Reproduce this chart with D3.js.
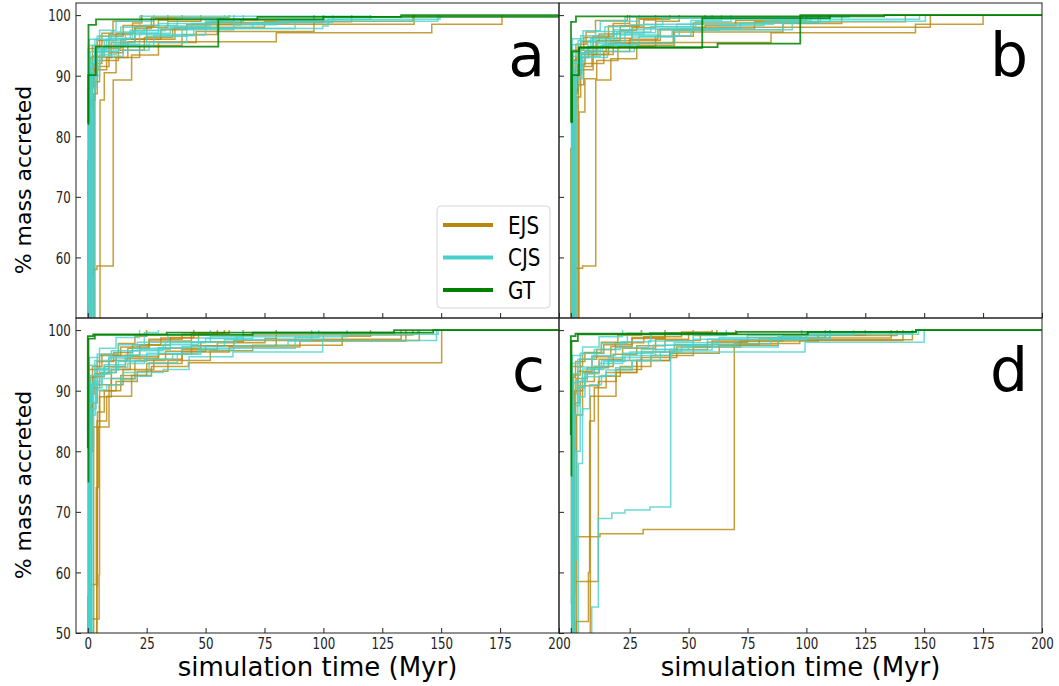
<!DOCTYPE html>
<html>
<head>
<meta charset="utf-8">
<script src="https://cdn.jsdelivr.net/npm/d3@7"></script>
<style>
  body { margin: 0; background: #fff; }
  text { font-family: "DejaVu Sans", sans-serif; }
</style>
</head>
<body>
<svg id="chart" width="1059" height="686"></svg>
<script>
/** data: each series is a list of [time (Myr), % mass accreted] steps */

var xTicks = [0, 25, 50, 75, 100, 125, 150, 175, 200];
var yTicks = [50, 60, 70, 80, 90, 100];
var panelLetters = ["a", "b", "c", "d"];
var seriesNames = ["EJS", "CJS", "GT"];

var ejsA = [
  [[0.6,20],[0.6,57.1],[2.1,58],[3.9,58.6],[10.8,89.3],[18.6,93.4],[30,95.5],[46,97.3],[96,98.9],[112,100]],
  [[5.2,20],[5.2,86],[7,90.5],[12,93],[22,95],[40,96.8],[55,98.5],[138.5,100]],
  [[0,30],[0,76],[1.5,86],[3,91],[8,93],[17,95.6],[80,97.1],[146,98.5],[175.8,100]],
  [[0,40],[1,88],[2.5,92],[6,94.5],[14,96],[25,98],[34,99],[48,100]],
  [[0,35],[0.8,84.5],[2,90],[4,93],[10,95.5],[20,97.8],[27,99.6],[60,100]],
  [[0,45],[1.5,90.5],[3,94],[9,96.8],[19,98.7],[23,100]],
  [[0,50],[0.5,92],[2,95],[6,97],[10.7,99],[22.7,100]],
  [[0,30],[2.5,87],[4,91.5],[9,93.8],[15,96],[31,97.6],[42,98.4],[65,99.2],[96,100]],
  [[0,42],[1.2,93],[4,95.8],[12,97],[20,98.1],[28,99.4],[40,100]],
  [[0,38],[3,89],[5,92.5],[13,94.2],[24,96.3],[36,97.8],[50,98.8],[100,100]],
  [[0,55],[0.3,94.5],[5,96.5],[15,98.3],[30,99.2],[34,100]],
  [[0,47],[0.7,91],[2,93.2],[7,95],[16,96],[37,98],[75,99],[138,100]]
];
var cjsA = [
  [[0.1,20],[0.1,88],[1,92],[3,94],[10,95.5],[20,96.8],[40,97.8],[99.7,98.2],[102,99.3],[120,100]],
  [[2.8,20],[2.8,90],[5,93.5],[12,95],[25,96.5],[42,97.6],[62,98.4],[80,99],[148.6,100]],
  [[0,50],[0.5,93],[3,94.3],[8,96],[18,97.5],[30,98.6],[55,99.3],[149.5,100]],
  [[0,45],[1.5,91.5],[4,94],[11,95.2],[22,97],[35,98],[50,99],[62,100]],
  [[0,40],[0.8,89],[2,92.5],[6,94],[13,95],[28,96.6],[45,97.9],[70,98.8],[104,100]],
  [[0,48],[1,94],[3,96],[10,97.2],[24,98.3],[38,99.5],[58,100]],
  [[0,52],[0.3,95],[4,96.5],[14,98],[22,99.8],[120,100]],
  [[0,35],[2,90.5],[4,93.8],[7,95.8],[16,97],[30,97.8],[44,98.6],[85,99.2],[100,100]],
  [[0,44],[1,92],[3,94.5],[9,96.2],[19,97.4],[33,98.2],[52,99],[66,100]],
  [[0,41],[1.8,88],[3.5,91.2],[5,93.2],[15,94.2],[26,95.5],[42,96.7],[50,97.8],[88,99],[96,100]],
  [[0,55],[0.6,96],[5,97.5],[12,99],[28,100]]
];
var gtA = [
  [[0,82.3],[0.3,98.4],[3.5,99.3],[72,99.7],[133,100],[210,100]],
  [[0,82],[0.2,90.1],[3.4,94.8],[55.4,99.3],[100,99.7],[210,100]]
];

var ejsB = [
  [[0.4,20],[0.4,57.5],[2,58.2],[5,58.6],[10.6,89.3],[17,92.8],[28,95],[44,97.2],[90,98.6],[115,100]],
  [[3.5,20],[3.5,84],[6,89.5],[11,92.5],[20,94.8],[36,96.5],[52,98],[152.6,100]],
  [[0,30],[0,78],[1.2,87],[3,91.5],[9,93.5],[18,95.5],[85,97.1],[146.3,98.5],[175,100]],
  [[0,40],[1.2,87.5],[3,91.8],[6,94],[15,96.2],[26,97.9],[36,99],[46,100]],
  [[0,35],[0.9,85],[2.2,90.3],[4.5,93.5],[11,95.8],[21,97.5],[28,99.5],[57,100]],
  [[0,45],[1.4,90],[3.2,93.8],[9.5,96.5],[18,98.6],[25,100]],
  [[0,50],[0.6,92.5],[2.2,95.2],[6.5,97.2],[10.5,99.1],[24,100]],
  [[0,30],[2.6,86.5],[4.2,91],[9.5,93.5],[16,95.3],[43.5,97.5],[57,98.3],[70,99.1],[100,100]],
  [[0,42],[1.3,92.6],[4.2,95.6],[12,96.9],[21,98.2],[29,99.3],[42,100]],
  [[0,38],[3.2,88.5],[5.5,92],[14,94],[25,96],[37,97.6],[52,98.7],[105,100]],
  [[0,55],[0.4,94.2],[5.5,96.3],[16,98.2],[31,99.2],[36,100]],
  [[0,47],[0.8,90.6],[2.2,93],[7.5,94.8],[17,95.8],[38,97.7],[78,98.9],[142,100]]
];
var cjsB = [
  [[0.3,20],[0.3,88.5],[1.1,92],[3.2,94.2],[10.5,95.6],[21,96.7],[38,97.6],[94,98.9],[110,100]],
  [[2.1,20],[2.1,89.5],[4.8,93.2],[12.5,95],[26,96.4],[43,97.5],[63,98.3],[82,99],[150.5,100]],
  [[0,50],[0.5,93.2],[3.2,94.5],[8.5,96.2],[18.5,97.6],[31,98.5],[56,99.3],[148,100]],
  [[0,45],[1.6,91.2],[4.2,93.8],[11.5,95.3],[23,97.1],[36,98.1],[51,99.1],[64,100]],
  [[0,40],[0.9,89.3],[2.1,92.4],[6.2,94.1],[13.5,95.1],[29,96.5],[46,97.8],[72,98.7],[106,100]],
  [[0,48],[1.1,93.8],[3.1,95.8],[10.5,97.3],[25,98.4],[39,99.5],[60,100]],
  [[0,52],[0.4,95.1],[4.2,96.6],[14.5,98.1],[23,99.7],[118,100]],
  [[0,35],[2.2,90.2],[4.1,93.6],[7.2,95.6],[16.5,96.9],[31,97.7],[45,98.5],[86,99.2],[102,100]],
  [[0,44],[1.1,92.2],[3.2,94.6],[9.2,96.1],[19.5,97.2],[34,98.1],[53,98.9],[68,100]],
  [[0,41],[1.9,88.2],[3.6,91.4],[5.2,93],[15.5,94],[27,95.3],[44,96.6],[51,97.6],[90,98.9],[98,100]],
  [[0,55],[0.7,96.1],[5.2,97.4],[12.5,99],[29,100]]
];
var gtB = [
  [[0,82.4],[0.1,98.9],[2.2,99.8],[133,100],[210,100]],
  [[0,82.4],[0.5,90.1],[3.5,94.6],[55.8,99.5],[110,100]],
  [[0,82.4],[0.5,94],[3.5,94.7],[62.3,95.3],[97.4,100],[210,100]]
];

var ejsC = [
  [[1.2,20],[1.2,52.3],[4.8,59.6],[5,85],[8,89.1],[18.6,92.5],[27,94],[42.7,94.6],[150.2,100]],
  [[3.8,20],[3.8,57.8],[4.1,86.5],[7,90],[14,92.5],[25,94.5],[40,96.8],[55,97.9],[75.2,98.6],[80,100]],
  [[3.9,20],[3.9,85],[5,89],[10,92],[20,95],[33,96.5],[50,97.4],[62,98.3],[140.7,100]],
  [[0,40],[0,56],[1,80],[2,88],[4,91],[10,93.5],[18,95.6],[30,97],[48,98.1],[66,99.2],[138,100]],
  [[0,35],[0.8,86],[2,90.5],[5,93],[12,95.8],[22,97.5],[35,98.8],[45,100]],
  [[0,45],[1.5,89.5],[3,92.8],[9,95],[17,97],[26,98.2],[44,99.5],[58,100]],
  [[0,50],[0.5,91],[2,94],[6,96],[13,97.8],[20,99],[25,100]],
  [[1.5,20],[1.5,58],[3.6,74],[4.6,84],[9,91],[15,93.5],[28,95.2],[40,96.4],[60,97.2],[90,98.2],[135,100]],
  [[0,42],[1.2,92.2],[4,94.8],[11,96.3],[19,97.6],[31,98.7],[47,99.5],[60,100]],
  [[0,38],[2.5,84],[5,90],[12,91.5],[21,93.2],[34,95],[52,96.6],[70,97.5],[108,99],[120,100]],
  [[0,55],[0.3,93.5],[5,95.8],[14,97.2],[26,98.5],[40,99.3],[55,100]],
  [[0,47],[0.7,90],[2.2,92.3],[7,94],[16,95.3],[30,96],[44,97.4],[80,98.5],[133,100]]
];
var cjsC = [
  [[0.2,20],[0.2,82],[1,86],[3.3,90.1],[8,91],[14,91.8],[20,92.4],[27,93],[32,93.5],[43,95.6],[61.6,96.4],[99.7,98.3],[148,100]],
  [[0.2,20],[0.2,88],[2,91.5],[5,92.8],[10,93.8],[17,94.5],[24,95.2],[36,96],[48,96.7],[62,97.4],[85,98.2],[95,100]],
  [[1,20],[1,86.5],[2.5,91],[6,93],[12,95],[22,96.8],[35,97.9],[50,98.6],[70,99.3],[148.7,100]],
  [[0,45],[1.5,90.8],[4,93.5],[9,95.4],[18,96.6],[32,97.6],[47,98.7],[66,100]],
  [[0,40],[0.8,88],[2,91.2],[5,93.4],[13,94.8],[25,96.2],[40,97.3],[58,98.4],[100,99.3],[140,100]],
  [[0,48],[1,92.5],[3,95],[10,96.6],[21,98],[34,99.2],[52,100]],
  [[0,52],[0.3,94.2],[4,96],[13,97.6],[24,99.6],[30,100]],
  [[0.5,20],[0.5,64],[1,80.5],[2.5,88],[4,92.6],[7,94.3],[16,95.9],[30,97.1],[44,98],[63,98.9],[110,100]],
  [[0,44],[1,91],[3,93.7],[9,95.6],[19,97],[33,98.1],[52,99],[66,100]],
  [[0,41],[1.8,87],[3.5,90.5],[6,92],[15,93],[26,94.6],[38,96.1],[47,97],[88,98.8],[98,100]],
  [[0,55],[0.6,95.5],[5,97],[12,98.8],[22,100]]
];
var gtC = [
  [[0,80.5],[0,99],[2.3,99.3],[33.5,99.6],[146.6,100],[210,100]],
  [[0,75],[0.3,98.6],[3,99.2],[70,99.6],[130,100],[210,100]]
];

var ejsD = [
  [[1.5,20],[1.5,56.6],[1.8,65.9],[12.4,66.4],[30.7,67.1],[69.4,97.8],[97.2,98.3],[141,100]],
  [[0.5,20],[0.5,52],[1.5,58.5],[11.7,91.5],[19.2,93.5],[30,95.5],[45,97.2],[60,98.2],[90,99.1],[138.5,100]],
  [[8.3,20],[8.3,89.1],[19.2,93],[28,95],[42,96.8],[58,98],[75,98.8],[108,100]],
  [[0.4,20],[0.4,56.5],[1,80],[2,88],[4,91.5],[10,94],[18,96],[28,97.4],[40,98.3],[55,99.3],[70,100]],
  [[0,35],[0.8,85.5],[2,90],[5,93],[12,95.2],[22,97],[36,98.5],[50,99.5],[62,100]],
  [[0,45],[1.5,90],[3,93.2],[9,95.6],[17,97.3],[26,98.6],[40,100]],
  [[0,50],[0.5,92.2],[2,94.8],[6,96.3],[13,98],[20,99.2],[30,100]],
  [[2.2,20],[2.2,51.9],[7.5,60],[8,85],[10,90.5],[15,93],[28,95],[42,96.2],[63,97.5],[88,98.4],[145,100]],
  [[0,42],[1.2,92.6],[4,95.2],[11,96.8],[19,97.9],[31,98.9],[47,99.7],[60,100]],
  [[0,38],[2.5,86],[5,90.8],[12,92.4],[21,94],[34,95.8],[52,97.2],[72,98.2],[105,99.2],[125,100]],
  [[0,55],[0.3,94],[5,96.2],[14,97.6],[26,98.8],[40,99.5],[52,100]],
  [[0,47],[0.7,89.5],[2.2,92],[7,93.8],[16,95],[30,96.4],[44,97.6],[80,98.7],[136,100]]
];
var cjsD = [
  [[8.9,20],[8.9,54.3],[11.7,68.9],[17.4,69.8],[23,70.3],[33.6,70.8],[42.4,96.4],[99.4,98],[150,100]],
  [[0.4,20],[0.4,83],[1.2,88],[3,91.5],[7,93.5],[14,94.8],[23,95.8],[36,96.8],[50,97.6],[70,98.4],[100,99.3],[147.6,100]],
  [[1.8,20],[1.8,86],[3,90.5],[6,92.8],[12,94.5],[22,96.2],[35,97.5],[52,98.5],[75,99.2],[120,100]],
  [[3.2,20],[3.2,78],[5,87],[8,91],[13,92.5],[19,93.8],[26,95],[34,95.8],[43,96.7],[60,97.7],[85,98.6],[110,100]],
  [[0,40],[0.8,88.5],[2,91.5],[5,93.6],[13,95],[25,96.4],[40,97.5],[58,98.5],[100,99.5],[145,100]],
  [[0,48],[1,92.8],[3,95.2],[10,96.8],[21,98.1],[34,99.3],[52,100]],
  [[0,52],[0.3,94.5],[4,96.2],[13,97.8],[24,99.5],[30,100]],
  [[1.2,20],[1.2,62],[2.5,80],[4,89],[6,92.8],[10,94],[16,95.5],[30,96.8],[44,97.9],[63,98.8],[110,100]],
  [[0,44],[1,91.3],[3,93.9],[9,95.8],[19,97.1],[33,98.2],[52,99.1],[66,100]],
  [[0,41],[1.8,87.5],[3.5,90.8],[6,92.3],[15,93.4],[26,95],[38,96.4],[47,97.2],[88,98.9],[98,100]],
  [[0,55],[0.6,95.8],[5,97.2],[12,98.9],[22,100]]
];
var gtD = [
  [[0,82.7],[0,99],[2,99.4],[33.6,99.5],[70.4,99.7],[146.5,100],[210,100]],
  [[0,76],[0.3,98.2],[3,99.3],[100.6,99.7],[146.5,100],[210,100]]
];

/** layout */

var COLORS = ["#b8860b", "#48d1cc", "#008000"];
var colX = [[76, 559], [559, 1042]];
var rowY = [[3, 318], [318, 633]];

var panels = [
  {ejs: ejsA, cjs: cjsA, gt: gtA, col: 0, row: 0},
  {ejs: ejsB, cjs: cjsB, gt: gtB, col: 1, row: 0},
  {ejs: ejsC, cjs: cjsC, gt: gtC, col: 0, row: 1},
  {ejs: ejsD, cjs: cjsD, gt: gtD, col: 1, row: 1}
];

var svg = d3.select("#chart");

panels.forEach(function(p, i) {
  var x = d3.scaleLinear().domain([-5, 200]).range(colX[p.col]);
  var y = d3.scaleLinear().domain([50, 102]).range([rowY[p.row][1], rowY[p.row][0]]);
  var g = svg.append("g");

  g.append("defs").append("clipPath")
      .attr("id", "clip" + i)
    .append("rect")
      .attr("x", colX[p.col][0])
      .attr("y", rowY[p.row][0])
      .attr("width", colX[p.col][1] - colX[p.col][0])
      .attr("height", rowY[p.row][1] - rowY[p.row][0]);

  var line = d3.line()
    .x(function(d) { return x(d[0]); })
    .y(function(d) { return y(d[1]); })
    .curve(d3.curveStepAfter);

  var plot = g.append("g").attr("clip-path", "url(#clip" + i + ")");

  [p.ejs, p.cjs, p.gt].forEach(function(group, k) {
    plot.selectAll(".s" + k)
      .data(group)
      .enter()
      .append("path")
        .attr("fill", "none")
        .attr("stroke", COLORS[k])
        .attr("stroke-opacity", k == 2 ? 0.85 : 0.8)
        .attr("stroke-width", k == 2 ? 1.8 : 1.5)
        .attr("d", line);
  });

  // AXES //
  var xAxis = g.append("g")
    .attr("transform", "translate(0," + rowY[p.row][1] + ")")
    .call(d3.axisBottom(x).tickValues(xTicks).tickSize(-5).tickPadding(5).tickSizeOuter(0));

  var yAxis = g.append("g")
    .attr("transform", "translate(" + colX[p.col][0] + ",0)")
    .call(d3.axisLeft(y).tickValues(p.row == 0 ? yTicks.slice(1) : yTicks).tickSize(-5).tickPadding(7).tickSizeOuter(0));

  [xAxis, yAxis].forEach(function(a) {
    a.select(".domain").remove();
    a.selectAll(".tick line").attr("stroke", "#222");
    a.selectAll(".tick text")
      .style("font-family", "DejaVu Sans")
      .style("font-size", "16px")
      .attr("fill", "#222");
  });
  xAxis.selectAll(".tick text").attr("transform", "scale(0.74,1)");
  yAxis.selectAll(".tick text").attr("transform", "scale(0.74,1)").attr("dy", "0.36em");

  if (p.row == 0) xAxis.selectAll(".tick text").remove();
  if (p.col == 1) {
    yAxis.selectAll(".tick text").remove();
    xAxis.selectAll(".tick text").filter(function(d) { return d === 0; }).remove();
  }

  // frame
  g.append("rect")
    .attr("x", colX[p.col][0])
    .attr("y", rowY[p.row][0])
    .attr("width", colX[p.col][1] - colX[p.col][0])
    .attr("height", rowY[p.row][1] - rowY[p.row][0])
    .attr("fill", "none")
    .attr("stroke", "#222")
    .attr("stroke-width", 1);

  // panel letter
  g.append("text")
    .attr("x", colX[p.col][1] - 14)
    .attr("y", rowY[p.row][0] + 73)
    .attr("text-anchor", "end")
    .style("font-size", "60px")
    .text(panelLetters[i]);

  if (p.row == 1) {
    g.append("text")
      .attr("x", (colX[p.col][0] + colX[p.col][1]) / 2)
      .attr("y", 676)
      .attr("text-anchor", "middle")
      .style("font-size", "26px")
      .text("simulation time (Myr)");
  }
  if (p.col == 0) {
    g.append("text")
      .attr("transform", "translate(31," + (p.row == 0 ? 180 : 485) + ") rotate(-90)")
      .attr("text-anchor", "middle")
      .style("font-size", "22px")
      .text("% mass accreted");
  }
});

// LEGEND //
var legend = svg.append("g");
legend.append("rect")
  .attr("x", 437).attr("y", 206)
  .attr("width", 113).attr("height", 102)
  .attr("rx", 4)
  .attr("fill", "#fff").attr("fill-opacity", 0.8)
  .attr("stroke", "#d6d6d6");

seriesNames.forEach(function(name, k) {
  var ly = 225 + k * 32.5;
  legend.append("line")
    .attr("x1", 443).attr("x2", 493)
    .attr("y1", ly).attr("y2", ly)
    .attr("stroke", COLORS[k])
    .attr("stroke-width", 4);
  legend.append("text")
    .attr("transform", "translate(508," + ly + ") scale(0.83,1)")
    .attr("dy", "0.36em")
    .style("font-size", "24px")
    .text(name);
});
</script>
</body>
</html>
